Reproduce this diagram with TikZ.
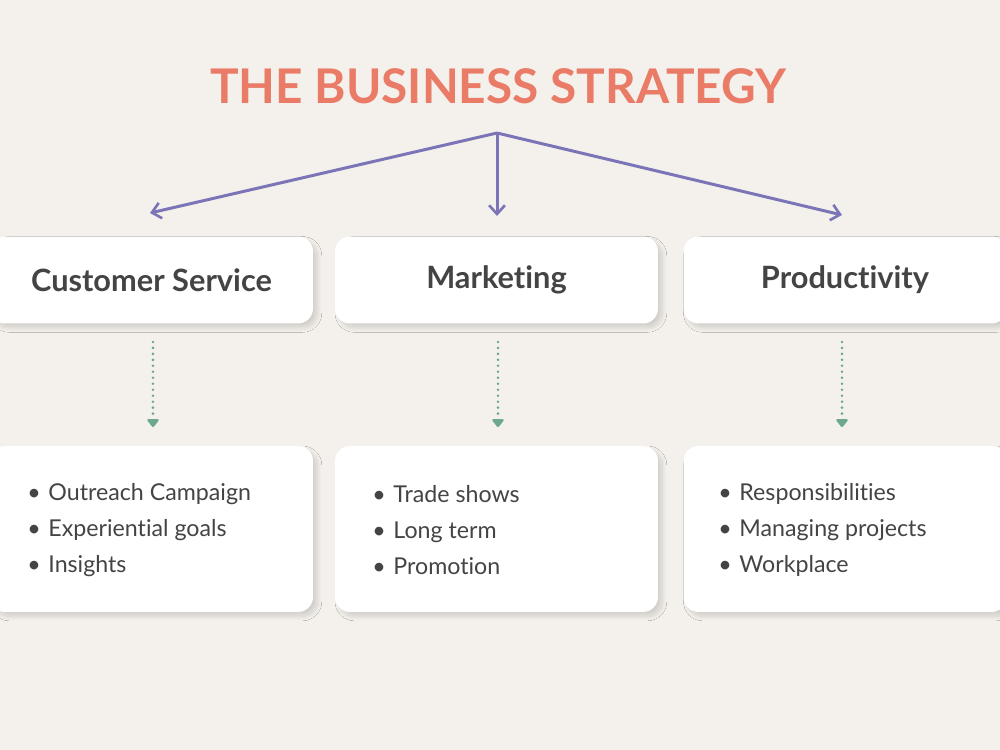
\documentclass[tikz,border=0pt]{standalone}
\usepackage{fontspec}
\setmainfont{Lato}[Ligatures=NoCommon]
\usetikzlibrary{arrows.meta,shadows.blur}
\definecolor{bg}{HTML}{F4F1EC}
\definecolor{titlec}{HTML}{E97B67}
\definecolor{purp}{HTML}{7B75B8}
\definecolor{greenc}{HTML}{6BA88C}
\definecolor{txt}{HTML}{444444}
\tikzset{
  card/.style={fill=white, rounded corners=15pt*0.567, draw=none,
    blur shadow={shadow xshift=2.5pt, shadow yshift=-2.5pt, shadow opacity=14, shadow blur steps=10, shadow blur radius=2.5pt}},
  headbox/.style={card, minimum width=6.46cm, minimum height=1.74cm, text=txt,
    font=\fontsize{17.5}{20}\selectfont\bfseries},
  listbox/.style={card, minimum width=6.46cm, minimum height=3.32cm},
  listtext/.style={anchor=west, align=left, text=txt, font=\fontsize{13.2}{20.4}\selectfont, inner sep=0pt},
  mainarrow/.style={draw=purp, line width=1.7pt, -{Straight Barb[length=5pt,width=9pt,line width=1.5pt]}},
  subarrow/.style={draw=greenc, line width=1.6pt, line cap=round, dash pattern=on 0pt off 3.4pt,
    -{Triangle[length=5pt,width=7.5pt,round]}, shorten <=20*0.567pt, shorten >=19*0.567pt},
}
\newcommand{\bul}[1]{\makebox[12pt][l]{\textbullet}#1}
\begin{document}
\begin{tikzpicture}[x=0.02cm,y=-0.02cm]
\fill[bg] (0,0) rectangle (1000,750);
\useasboundingbox (0,0) rectangle (1000,750);
\node[text=titlec, font=\fontsize{27.2}{32}\selectfont\bfseries] (t) at (498,86) {THE BUSINESS STRATEGY};
\coordinate (hub) at (497,133);
\node[headbox] (h1) at (151.5,280) {Customer Service};
\node[headbox] (h2) at (496.5,280) {Marketing};
\node[headbox] (h3) at (845,280) {Productivity};
\node[listbox] (l1) at (151.5,529) {};
\node[listbox] (l2) at (496.5,529) {};
\node[listbox] (l3) at (845,529) {};
\node[listtext] (x1) at (27,530) {\bul{Outreach Campaign}\\\bul{Experiential goals}\\\bul{Insights}};
\node[listtext] (x2) at (372,530) {\bul{Trade shows}\\\bul{Long term}\\\bul{Promotion}};
\node[listtext] (x3) at (718,530) {\bul{Responsibilities}\\\bul{Managing projects}\\\bul{Workplace}};
\coordinate (e1) at (150,213);
\coordinate (e2) at (497,216);
\coordinate (e3) at (842,215);
\draw[mainarrow] (hub) -- (e1);
\draw[mainarrow] (hub) -- (e2);
\draw[mainarrow] (hub) -- (e3);
\coordinate (a1) at (153,322); \coordinate (b1) at (153,446);
\coordinate (a2) at (498,322); \coordinate (b2) at (498,446);
\coordinate (a3) at (842,322); \coordinate (b3) at (842,446);
\draw[subarrow] (a1) -- (b1);
\draw[subarrow] (a2) -- (b2);
\draw[subarrow] (a3) -- (b3);
\end{tikzpicture}
\end{document}
